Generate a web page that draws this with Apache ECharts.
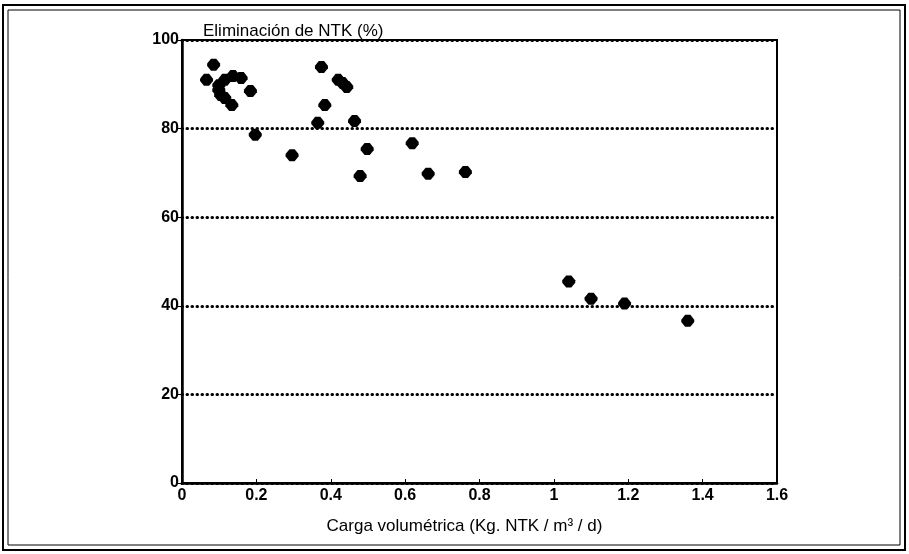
<!DOCTYPE html>
<html>
<head>
<meta charset="utf-8">
<script src="https://cdn.jsdelivr.net/npm/echarts@6/dist/echarts.min.js"></script>
<style>
  html, body { margin: 0; padding: 0; background: #fff; }
  #chart { width: 909px; height: 554px; }
</style>
</head>
<body>
<div id="chart"></div>
<script>
// carga volumetrica (Kg NTK / m3 / d)
const carga = [
    0.085, 0.066, 0.115, 0.137, 0.159, 0.099, 0.099, 0.104, 0.115, 0.184,
    0.134, 0.197, 0.296, 0.375, 0.420, 0.432, 0.443, 0.384, 0.365, 0.464,
    0.498, 0.619, 0.479, 0.662, 0.762, 1.04, 1.10, 1.19, 1.36
];
// eliminacion de NTK (%)
const eliminacion = [
    94.4, 91.0, 91.0, 91.9, 91.4, 89.8, 88.7, 87.6, 86.9, 88.5,
    85.3, 78.6, 74.0, 93.9, 91.0, 90.3, 89.4, 85.3, 81.3, 81.7,
    75.4, 76.7, 69.3, 69.8, 70.2, 45.5, 41.6, 40.5, 36.6
];
const xTicks = [0, 0.2, 0.4, 0.6, 0.8, 1, 1.2, 1.4, 1.6];
const yTicks = [0, 20, 40, 60, 80, 100];

let myChart = echarts.init(document.getElementById('chart'));

const font = "Liberation Sans, Arial, sans-serif";

myChart.setOption({
    animation: false,
    backgroundColor: "#fff",
    graphic: [
        {type: "rect", shape: {x: 3, y: 5, width: 902, height: 545},
            style: {fill: "none", stroke: "#000", lineWidth: 2}},
        {type: "rect", shape: {x: 8, y: 10, width: 892, height: 535},
            style: {fill: "none", stroke: "#000", lineWidth: 1}}
    ],
    title: {
        text: "Eliminación de NTK (%)",
        left: 198,
        top: 18,
        textStyle: {fontFamily: font, fontSize: 17, fontWeight: "normal", color: "#000"}
    },
    grid: {
        left: 182,
        right: 132,
        top: 40,
        bottom: 71,
        show: true,
        borderColor: "#000",
        borderWidth: 2
    },
    xAxis: {
        type: "value",
        min: 0,
        max: 1.6,
        interval: 0.2,
        name: "Carga volumétrica (Kg. NTK / m³ / d)",
        nameLocation: "middle",
        nameGap: 35,
        nameTextStyle: {fontFamily: font, fontSize: 17, color: "#000", padding: [0, 30, 0, 0]},
        axisLine: {lineStyle: {color: "#000", width: 2.5}},
        axisTick: {show: true, inside: true, length: 4, lineStyle: {color: "#000"}},
        splitLine: {show: false},
        axisLabel: {
            fontFamily: font, fontSize: 16, fontWeight: "bold", color: "#000", margin: 5,
            formatter: v => String(xTicks.find(t => Math.abs(t - v) < 1e-6))
        }
    },
    yAxis: {
        type: "value",
        min: 0,
        max: 100,
        interval: 20,
        axisLine: {lineStyle: {color: "#000", width: 2.5}},
        axisTick: {show: true, length: 4, lineStyle: {color: "#000"}},
        splitLine: {show: true, lineStyle: {color: "#000", width: 3, type: [0.5, 4.5], cap: "round"}},
        axisLabel: {
            fontFamily: font, fontSize: 16, fontWeight: "bold", color: "#000", margin: 3,
            formatter: v => String(yTicks.find(t => t === v))
        }
    },
    series: [{
        type: "scatter",
        data: carga.map((c, i) => [c, eliminacion[i]]),
        symbol: "path://M3,0 L7,0 L10,4 L10,6 L7,10 L3,10 L0,6 L0,4 Z",
        symbolSize: [13, 12],
        itemStyle: {color: "#000", opacity: 1}
    }]
});
</script>
</body>
</html>
